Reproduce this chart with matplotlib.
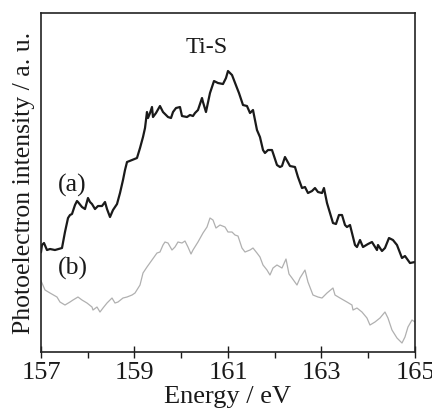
import matplotlib
matplotlib.use("Agg")
import matplotlib.pyplot as plt
from matplotlib.ticker import MultipleLocator

# curve (a): Ti-S, black
energy_a = [157.000, 157.021, 157.064, 157.128, 157.193, 157.299, 157.449, 157.513, 157.578, 157.620,
            157.663, 157.727, 157.770, 157.791, 157.877, 157.941, 158.005, 158.048, 158.091, 158.155,
            158.219, 158.305, 158.369, 158.412, 158.476, 158.540, 158.626, 158.690, 158.754, 158.797,
            158.840, 158.947, 159.053, 159.118, 159.182, 159.225, 159.267, 159.289, 159.332, 159.374,
            159.396, 159.460, 159.545, 159.610, 159.717, 159.781, 159.824, 159.888, 159.973, 160.016,
            160.123, 160.187, 160.251, 160.294, 160.358, 160.444, 160.465, 160.529, 160.615, 160.701,
            160.786, 160.893, 160.957, 161.000, 161.086, 161.193, 161.235, 161.321, 161.406, 161.471,
            161.535, 161.556, 161.620, 161.684, 161.749, 161.791, 161.856, 161.941, 161.963, 162.048,
            162.112, 162.155, 162.219, 162.326, 162.433, 162.497, 162.583, 162.647, 162.711, 162.797,
            162.861, 162.925, 163.011, 163.053, 163.118, 163.182, 163.246, 163.310, 163.374, 163.439,
            163.503, 163.545, 163.610, 163.717, 163.759, 163.824, 163.888, 163.995, 164.080, 164.187,
            164.209, 164.294, 164.358, 164.444, 164.529, 164.615, 164.722, 164.786, 164.893, 165.000]
intensity_a = [100, 107, 109, 102, 103, 102, 104, 120, 134, 137,
               138, 147, 151, 150, 145, 143, 154, 150, 148, 143,
               146, 146, 150, 143, 135, 142, 148, 159, 172, 182,
               190, 192, 194, 204, 215, 224, 240, 234, 239, 245,
               235, 239, 246, 240, 235, 234, 240, 244, 245, 236,
               235, 237, 236, 239, 242, 254, 250, 240, 259, 271,
               269, 268, 274, 281, 277, 264, 259, 247, 246, 239,
               242, 237, 222, 215, 202, 199, 202, 202, 199, 187,
               185, 186, 195, 186, 185, 175, 164, 165, 159, 161,
               164, 160, 159, 164, 149, 139, 129, 128, 137, 137,
               127, 125, 127, 107, 105, 112, 105, 108, 110, 102,
               107, 101, 104, 114, 112, 107, 94, 96, 89, 90]

# curve (b): grey
energy_b = [157.000, 157.021, 157.086, 157.193, 157.342, 157.406, 157.513, 157.620, 157.684, 157.791,
            157.877, 157.984, 158.091, 158.112, 158.198, 158.262, 158.326, 158.412, 158.476, 158.519,
            158.583, 158.647, 158.754, 158.840, 158.947, 159.011, 159.118, 159.182, 159.267, 159.374,
            159.481, 159.545, 159.610, 159.652, 159.717, 159.802, 159.866, 159.930, 160.016, 160.080,
            160.144, 160.209, 160.251, 160.358, 160.465, 160.551, 160.615, 160.679, 160.743, 160.829,
            160.936, 161.000, 161.086, 161.150, 161.214, 161.299, 161.364, 161.471, 161.535, 161.620,
            161.684, 161.749, 161.834, 161.898, 161.963, 162.048, 162.155, 162.241, 162.305, 162.369,
            162.476, 162.540, 162.647, 162.711, 162.818, 162.925, 163.011, 163.118, 163.246, 163.289,
            163.396, 163.545, 163.652, 163.674, 163.759, 163.866, 163.973, 164.037, 164.144, 164.251,
            164.358, 164.422, 164.508, 164.615, 164.722, 164.786, 164.850, 164.936, 165.000]
intensity_b = [71, 69, 62, 59, 55, 50, 47, 50, 52, 55,
               52, 49, 45, 42, 45, 40, 44, 49, 52, 54,
               49, 50, 54, 55, 57, 59, 67, 79, 85, 92,
               99, 100, 107, 110, 109, 102, 105, 110, 109, 111,
               105, 98, 102, 110, 119, 125, 134, 132, 124, 127,
               125, 120, 120, 117, 116, 104, 100, 102, 104, 99,
               95, 87, 82, 77, 84, 87, 84, 93, 78, 74,
               67, 74, 82, 70, 57, 55, 54, 59, 64, 57,
               54, 50, 47, 42, 44, 40, 34, 27, 30, 34,
               40, 34, 22, 14, 9, 15, 25, 32, 30]

xticks = [157, 159, 161, 163, 165]

plt.rcParams['font.family'] = ['Liberation Serif', 'DejaVu Serif']

fig = plt.figure(figsize=(4.32, 4.12), dpi=100)
ax = fig.add_axes([0.0949, 0.1456, 0.8657, 0.8228])

ax.plot(energy_a, intensity_a, color='#1a1a1a', linewidth=1.6)
ax.plot(energy_b, intensity_b, color='#b0b0b0', linewidth=0.9)

ax.set_xlim(157, 165)
ax.set_ylim(0, 339)
ax.set_xticks(xticks)
ax.set_xticklabels([str(t) for t in xticks])
ax.xaxis.set_minor_locator(MultipleLocator(1))
ax.set_yticks([])
ax.tick_params(axis='x', which='major', direction='inout', length=9, width=1.0,
               labelsize=19, pad=3, colors='#1a1a1a')
ax.tick_params(axis='x', which='minor', direction='out', length=4, width=1.0, colors='#1a1a1a')

for s in ax.spines.values():
    s.set_linewidth(1.2)
    s.set_color('#222222')

ax.set_xlabel('Energy / eV', fontsize=19, labelpad=1, color='#1a1a1a')
ax.set_ylabel('Photoelectron intensity / a. u.', fontsize=18.5, labelpad=4, color='#1a1a1a')

ax.text(160.55, 305, 'Ti-S', fontsize=17.5, ha='center', va='center', color='#1a1a1a')
ax.text(157.66, 167, '(a)', fontsize=18.5, ha='center', va='center', color='#1a1a1a')
ax.text(157.68, 84, '(b)', fontsize=18.5, ha='center', va='center', color='#1a1a1a')

fig.savefig('out.png', dpi=100)
